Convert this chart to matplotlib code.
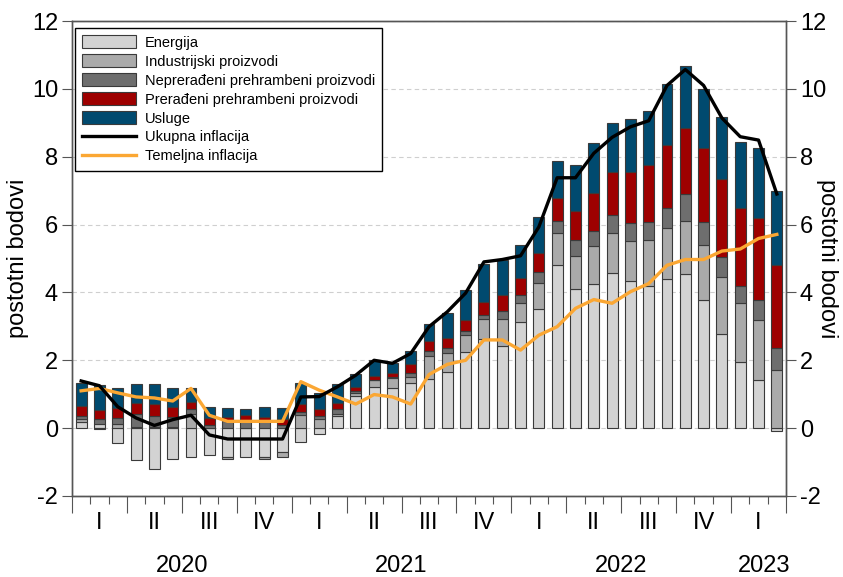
import matplotlib
matplotlib.use('Agg')

import numpy as np
import matplotlib.pyplot as plt
import matplotlib.transforms as mtransforms
from matplotlib.patches import Patch
from matplotlib.lines import Line2D

# ==========================================
# DATA (monthly, Jan 2020 - Mar 2023), contributions in pp
# ==========================================
energija = [0.17, 0.12, -0.45, -0.94, -1.19, -0.92, -0.85, -0.80, -0.85, -0.85, -0.85, -0.70,
            -0.40, -0.16, 0.36, 0.95, 1.22, 1.17, 1.34, 1.44, 1.66, 2.23, 2.64, 2.43,
            3.13, 3.50, 4.82, 4.10, 4.24, 4.58, 4.33, 4.19, 4.41, 4.53, 3.79, 2.77,
            1.94, 1.41, -0.09]
industrijski = [0.09, -0.04, 0.11, 0.04, 0.04, 0.04, 0.43, 0.00, -0.06, 0.00, -0.06, -0.15,
                0.38, 0.26, 0.07, 0.09, 0.19, 0.31, 0.17, 0.69, 0.56, 0.53, 0.59, 0.80,
                0.56, 0.79, 0.92, 0.98, 1.12, 1.16, 1.19, 1.35, 1.49, 1.58, 1.62, 1.69,
                1.75, 1.77, 1.71]
neprerađeni = [0.09, 0.14, 0.18, 0.39, 0.31, 0.29, 0.13, 0.09, 0.20, 0.24, 0.24, 0.09,
               0.10, 0.09, 0.13, 0.05, 0.02, 0.03, 0.12, 0.15, 0.13, 0.10, 0.10, 0.23,
               0.23, 0.32, 0.36, 0.46, 0.45, 0.54, 0.53, 0.54, 0.59, 0.79, 0.67, 0.59,
               0.50, 0.61, 0.66]
prerađeni = [0.30, 0.27, 0.29, 0.32, 0.35, 0.30, 0.20, 0.21, 0.13, 0.14, 0.09, 0.17,
             0.23, 0.20, 0.17, 0.13, 0.10, 0.12, 0.25, 0.29, 0.32, 0.34, 0.39, 0.46,
             0.51, 0.56, 0.67, 0.86, 1.12, 1.27, 1.49, 1.69, 1.87, 1.96, 2.18, 2.29,
             2.31, 2.39, 2.43]
usluge = [0.68, 0.75, 0.59, 0.54, 0.59, 0.54, 0.41, 0.33, 0.25, 0.17, 0.30, 0.32,
          0.61, 0.50, 0.56, 0.39, 0.47, 0.28, 0.39, 0.49, 0.71, 0.87, 1.13, 1.05,
          0.96, 1.04, 1.11, 1.37, 1.46, 1.45, 1.56, 1.58, 1.78, 1.82, 1.75, 1.84,
          1.94, 2.08, 2.18]

ukupna = [1.39, 1.25, 0.63, 0.30, 0.08, 0.25, 0.38, -0.20, -0.32, -0.32, -0.32, -0.32,
          0.92, 0.93, 1.22, 1.56, 2.00, 1.91, 2.20, 2.99, 3.43, 3.98, 4.90, 4.97,
          5.08, 5.93, 7.38, 7.38, 8.10, 8.57, 8.88, 9.06, 10.10, 10.57, 10.10, 9.14,
          8.59, 8.49, 6.90]
temeljna = [1.10, 1.17, 1.04, 0.92, 0.89, 0.80, 1.17, 0.38, 0.20, 0.20, 0.20, 0.20,
            1.37, 1.12, 0.92, 0.71, 0.99, 0.92, 0.71, 1.58, 1.88, 2.00, 2.60, 2.60,
            2.30, 2.74, 2.99, 3.53, 3.79, 3.68, 4.02, 4.26, 4.80, 4.97, 4.97, 5.22,
            5.28, 5.59, 5.71]

quarter_labels = ['I', 'II', 'III', 'IV'] * 3 + ['I']
years = ['2020', '2021', '2022', '2023']
year_months = [12, 12, 12, 3]

series = [
    ('Energija', energija, '#d3d3d3'),
    ('Industrijski proizvodi', industrijski, '#aaaaaa'),
    ('Neprerađeni prehrambeni proizvodi', neprerađeni, '#6e6e6e'),
    ('Prerađeni prehrambeni proizvodi', prerađeni, '#9e0000'),
    ('Usluge', usluge, '#004a6f'),
]
LINE_BLACK = '#000000'
LINE_ORANGE = '#fba733'

plt.rcParams['font.family'] = ['Liberation Sans', 'DejaVu Sans']
plt.rcParams['axes.unicode_minus'] = False

# ==========================================
# PLOT
# ==========================================
fig = plt.figure(figsize=(8.43, 5.77), dpi=100)
ax = fig.add_axes([72 / 843, 1 - 496 / 577, 714 / 843, 475 / 577])

n = len(ukupna)
x = np.arange(n)
pos_bottom = np.zeros(n)
neg_bottom = np.zeros(n)
handles = []
for name, vals, col in series:
    v = np.array(vals)
    bottom = np.where(v >= 0, pos_bottom, neg_bottom)
    ax.bar(x, v, bottom=bottom, width=0.6, color=col, edgecolor='#3a3a3a',
           linewidth=0.8, zorder=3)
    pos_bottom = pos_bottom + np.where(v >= 0, v, 0)
    neg_bottom = neg_bottom + np.where(v < 0, v, 0)
    handles.append(Patch(facecolor=col, edgecolor='#3a3a3a', linewidth=0.8, label=name))

ax.plot(x, ukupna, color=LINE_BLACK, linewidth=2.4, zorder=5)
ax.plot(x, temeljna, color=LINE_ORANGE, linewidth=2.4, zorder=4)
handles.append(Line2D([], [], color=LINE_BLACK, linewidth=2.4, label='Ukupna inflacija'))
handles.append(Line2D([], [], color=LINE_ORANGE, linewidth=2.4, label='Temeljna inflacija'))

ax.set_xlim(-0.5, n - 0.5)
ax.set_ylim(-2, 12)
ax.set_yticks(np.arange(-2, 13, 2))
ax.yaxis.grid(True, linestyle=(0, (4, 3)), color='#cfcfcf', linewidth=0.8, zorder=0)

# x ticks: months (minor) and quarters (major)
ax.set_xticks(np.arange(-0.5, n, 3))
ax.set_xticks(np.arange(-0.5, n, 1), minor=True)
ax.set_xticklabels([])
ax.tick_params(axis='x', which='major', direction='out', length=12, width=0.8, color='#555555')
ax.tick_params(axis='x', which='minor', direction='out', length=6, width=0.8, color='#555555')
ax.tick_params(axis='y', direction='out', length=7, width=0.8, color='#555555',
               labelsize=17, pad=3)

for s in ax.spines.values():
    s.set_color('#555555')
    s.set_linewidth(1.0)

trans = mtransforms.blended_transform_factory(ax.transData, fig.transFigure)
for i, q in enumerate(quarter_labels):
    ax.text(3 * i + 1, 1 - 523 / 577, q, transform=trans, ha='center', va='center', fontsize=17)

start = 0
for yr, m in zip(years, year_months):
    cx = start + (m - 1) / 2 if m == 12 else start + 1.3
    ax.text(cx, 1 - 566 / 577, yr, transform=trans, ha='center', va='center', fontsize=17)
    start += m

ax.set_ylabel('postotni bodovi', fontsize=17, va='center')
ax.yaxis.set_label_coords(-0.076, 0.5)

ax2 = ax.twinx()
ax2.set_ylim(-2, 12)
ax2.set_yticks(np.arange(-2, 13, 2))
ax2.tick_params(axis='y', direction='out', length=7, width=0.8, color='#555555',
                labelsize=17, pad=3)
ax2.set_ylabel('postotni bodovi', fontsize=17, rotation=270, va='center')
ax2.yaxis.set_label_coords(1.057, 0.5)
for s in ax2.spines.values():
    s.set_color('#555555')
    s.set_linewidth(1.0)

leg = ax.legend(handles=handles, loc='upper left', bbox_to_anchor=(0.004, 0.985),
                borderaxespad=0, fontsize=10.5, frameon=True, fancybox=False,
                edgecolor='black', framealpha=1, handlelength=3.7, handleheight=1.0,
                handletextpad=0.6, labelspacing=0.3, borderpad=0.5)
leg.get_frame().set_linewidth(1.0)
leg.set_zorder(10)

fig.savefig('out.png', dpi=100)
